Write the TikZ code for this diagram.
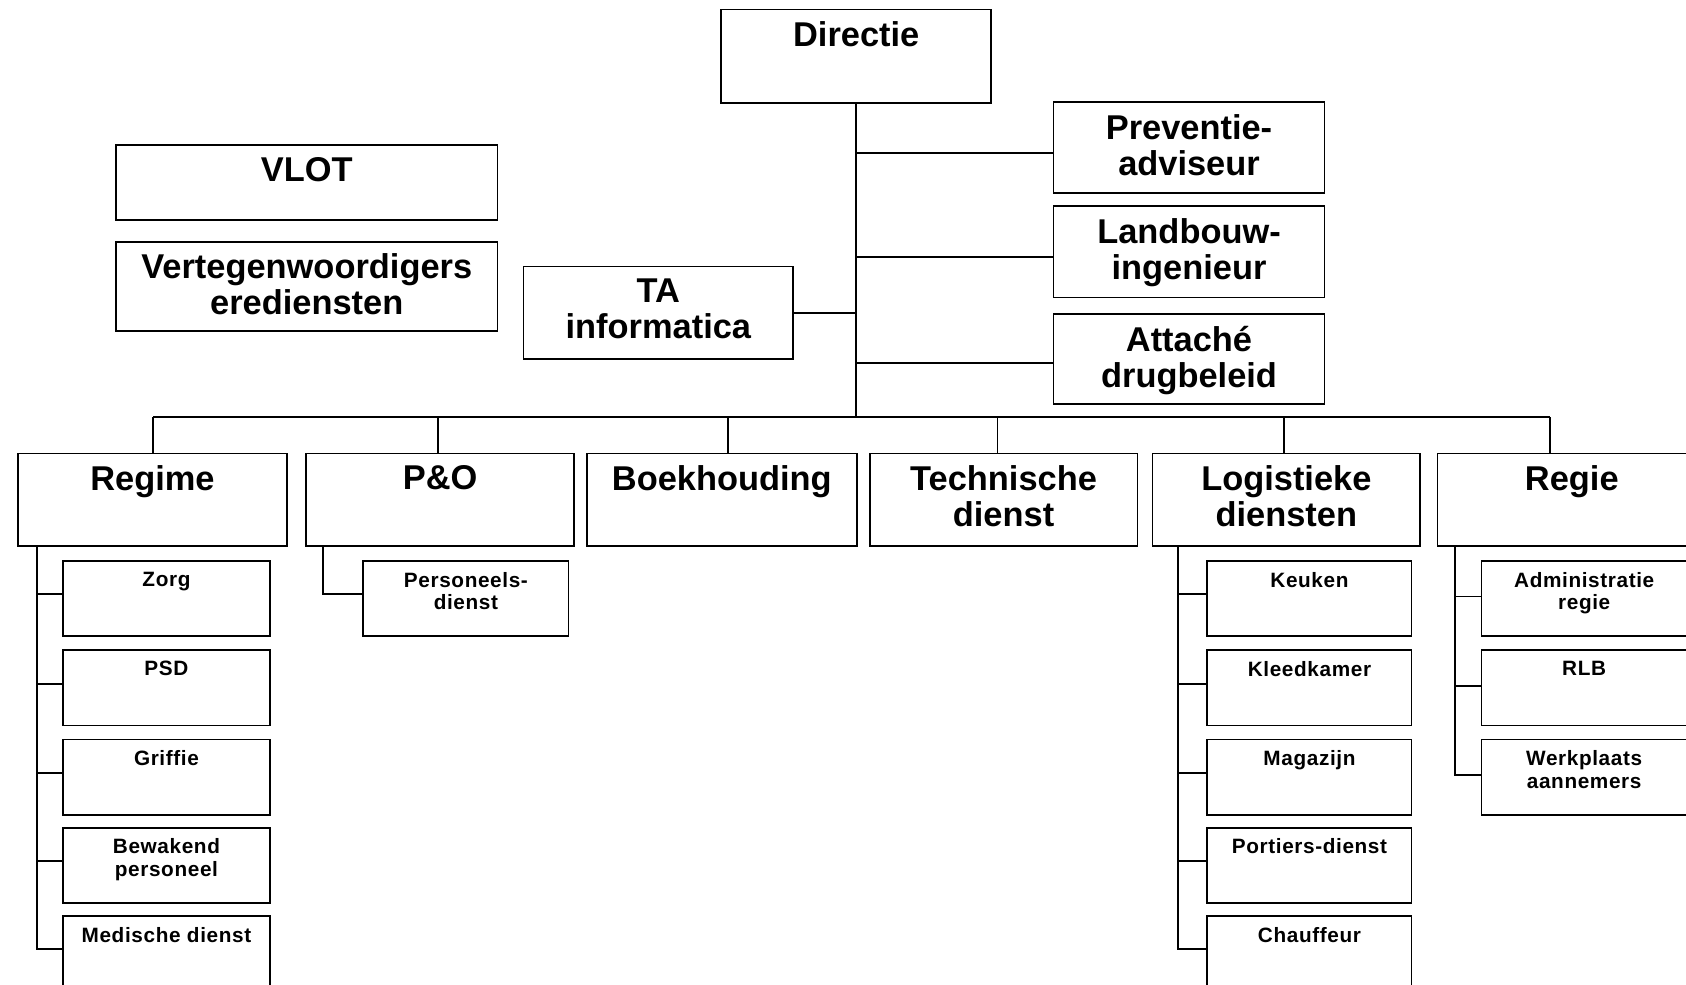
\documentclass[tikz,border=0pt]{standalone}
\usepackage{fontspec}
\setmainfont{Liberation Sans}
\newcommand\BigLab{\fontsize{32}{33.5}\selectfont\bfseries}
\newcommand\SmallLab{\fontsize{19.3}{21}\selectfont\bfseries\addfontfeature{LetterSpace=3}}
\begin{document}
\begin{tikzpicture}[x=1pt,y=-1pt,
  box/.style={draw, line width=1.6pt, inner sep=0pt, anchor=north west},
  bx/.style 2 args={box, minimum width=#1, minimum height=#2},
  biglab/.style={anchor=north, yshift=-12pt, inner sep=0pt, align=center, font=\BigLab},
  smlab/.style={anchor=north, yshift=-11pt, inner sep=0pt, align=center, font=\SmallLab},
  conn/.style={line width=1.7pt}]
\useasboundingbox (0,0) rectangle (1568,916);
\fill[white] (0,0) rectangle (1568,916);
\clip (0,0) rectangle (1568,916);
% top level
\node[bx={251pt}{87pt}, label={[biglab]north:Directie}] (dir) at (670,8) {};
\node[bx={252pt}{85pt}, label={[biglab]north:Preventie-\\adviseur}] (prev) at (979,94) {};
\node[bx={252pt}{85pt}, label={[biglab]north:Landbouw-\\ingenieur}] (land) at (979,191) {};
\node[bx={252pt}{84pt}, label={[biglab]north:Attaché\\drugbeleid}] (att) at (979,291) {};
\node[bx={251pt}{86pt}, label={[biglab]north:TA\\informatica}] (ta) at (486,247) {};
\node[bx={355pt}{70pt}, label={[biglab]north:VLOT}] (vlot) at (107,134) {};
\node[bx={355pt}{83pt}, label={[biglab]north:Vertegenwoordigers\\erediensten}] (verteg) at (107,224) {};
% second level
\node[bx={250pt}{86pt}, label={[biglab]north:Regime}] (regime) at (16,421) {};
\node[bx={249pt}{86pt}, label={[biglab]north:P\&O}] (po) at (284,421) {};
\node[bx={251pt}{86pt}, label={[biglab]north:Boekhouding}] (boek) at (545,421) {};
\node[bx={249pt}{86pt}, label={[biglab]north:Technische\\dienst}] (tech) at (808,421) {};
\node[bx={249pt}{86pt}, label={[biglab]north:Logistieke\\diensten}] (log) at (1071,421) {};
\node[bx={250pt}{86pt}, label={[biglab]north:Regie}] (regie) at (1336,421) {};
% third level
\node[bx={192pt}{70pt}, label={[smlab]north:Zorg}] (zorg) at (58,521) {};
\node[bx={192pt}{70pt}, label={[smlab]north:PSD}] (psd) at (58,604) {};
\node[bx={192pt}{70pt}, label={[smlab]north:Griffie}] (griffie) at (58,687) {};
\node[bx={192pt}{70pt}, label={[smlab]north:Bewakend\\personeel}] (bewakend) at (58,769) {};
\node[bx={192pt}{70pt}, label={[smlab]north:Medische dienst}] (medische) at (58,851) {};
\node[bx={191pt}{70pt}, label={[smlab]north:Personeels-\\dienst}] (pers) at (337,521) {};
\node[bx={190pt}{70pt}, label={[smlab]north:Keuken}] (keuken) at (1122,521) {};
\node[bx={190pt}{70pt}, label={[smlab]north:Kleedkamer}] (kleed) at (1122,604) {};
\node[bx={190pt}{70pt}, label={[smlab]north:Magazijn}] (magazijn) at (1122,687) {};
\node[bx={190pt}{70pt}, label={[smlab]north:Portiers-dienst}] (portiers) at (1122,769) {};
\node[bx={190pt}{70pt}, label={[smlab]north:Chauffeur}] (chauffeur) at (1122,851) {};
\node[bx={191pt}{70pt}, label={[smlab]north:Administratie\\regie}] (admin) at (1377,521) {};
\node[bx={191pt}{70pt}, label={[smlab]north:RLB}] (rlb) at (1377,604) {};
\node[bx={191pt}{70pt}, label={[smlab]north:Werkplaats\\aannemers}] (werk) at (1377,687) {};
% connectors from Directie
\coordinate (bus) at (796,388);
\draw[conn] (dir.south) -- (dir.south |- bus);
\coordinate (pc) at ([yshift=-5pt]prev.west);
\coordinate (lc) at ([yshift=-5pt]land.west);
\coordinate (ac) at ([yshift=-4pt]att.west);
\draw[conn] (pc) -- (pc -| dir.south);
\draw[conn] (lc) -- (lc -| dir.south);
\draw[conn] (ac) -- (ac -| dir.south);
\draw[conn] (ta.east) -- (ta.east -| dir.south);
% bus and drops
\coordinate (d1) at ([xshift=0.6pt]regime.north);
\coordinate (d2) at ([xshift=-1.7pt]po.north);
\coordinate (d3) at ([xshift=5.5pt]boek.north);
\coordinate (d4) at ([xshift=-5.6pt]tech.north);
\coordinate (d5) at ([xshift=-2pt]log.north);
\coordinate (d6) at ([xshift=-20.4pt]regie.north);
\draw[conn] (d1 |- bus) -- (d6 |- bus);
\foreach \d in {d1,d2,d3,d4,d5,d6} \draw[conn] (\d) -- (\d |- bus);
% children
\coordinate (rv) at ([xshift=18.5pt]regime.south west);
\foreach \c in {zorg,psd,griffie,bewakend,medische} \draw[conn] (rv) |- ([yshift=4pt]\c.west);
\coordinate (pv) at ([xshift=16.7pt]po.south west);
\draw[conn] (pv) |- ([yshift=4pt]pers.west);
\coordinate (lv) at ([xshift=24.8pt]log.south west);
\foreach \c in {keuken,kleed,magazijn,portiers,chauffeur} \draw[conn] (lv) |- ([yshift=4pt]\c.west);
\coordinate (gv) at ([xshift=17.2pt]regie.south west);
\foreach \c in {admin,rlb,werk} \draw[conn] (gv) |- ([yshift=2pt]\c.west);
\end{tikzpicture}
\end{document}
